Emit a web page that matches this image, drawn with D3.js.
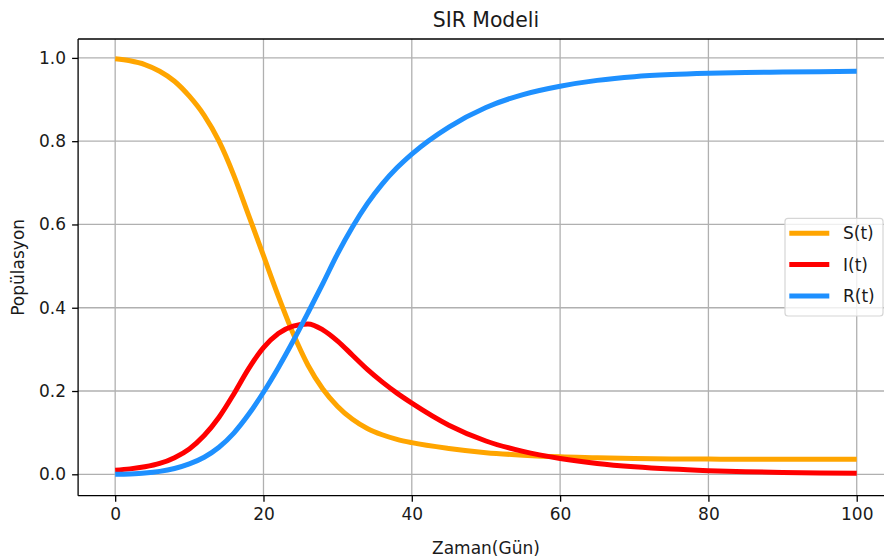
<!DOCTYPE html>
<html>
<head>
<meta charset="utf-8">
<script src="https://cdn.jsdelivr.net/npm/d3@7"></script>
<style>
  html, body { margin: 0; padding: 0; background: #fff; }
  svg { display: block; }
  text { font-family: "DejaVu Sans", sans-serif; fill: #1a1a1a; }
</style>
</head>
<body>
<svg id="chart" width="884" height="560"></svg>
<script>
// Time (days)
const days = [0,2,4,6,8,10,12,14,16,18,20,22,24,26,28,30,32,34,36,38,40,45,50,55,60,65,70,75,80,85,90,95,100];
// S(t)
const susceptible = [0.998,0.993,0.984,0.968,0.944,0.908,0.862,0.800,0.718,0.622,0.525,0.428,0.338,0.262,0.205,0.163,0.132,0.110,0.095,0.084,0.076,0.062,0.052,0.046,0.042,0.040,0.038,0.037,0.0365,0.036,0.036,0.036,0.036];
// I(t)
const infected = [0.010,0.013,0.018,0.026,0.040,0.061,0.093,0.137,0.193,0.254,0.304,0.338,0.356,0.361,0.347,0.320,0.286,0.252,0.222,0.195,0.171,0.118,0.080,0.055,0.038,0.026,0.018,0.0125,0.0088,0.0062,0.0044,0.0032,0.0024];
// R(t)
const recovered = [0.000,0.001,0.003,0.007,0.014,0.025,0.041,0.065,0.099,0.144,0.197,0.256,0.320,0.388,0.458,0.530,0.594,0.650,0.697,0.736,0.769,0.834,0.881,0.912,0.932,0.946,0.955,0.960,0.963,0.965,0.966,0.967,0.968];

const seriesNames = ["S(t)", "I(t)", "R(t)"];
const seriesColors = ["#FFA500", "#FF0000", "#1E90FF"];
const xTicks = [0, 20, 40, 60, 80, 100];
const yTicks = [0.0, 0.2, 0.4, 0.6, 0.8, 1.0];

(function () {
const svg = d3.select("#chart");
svg.append("rect").attr("width", 884).attr("height", 560).attr("fill", "#fff");

const pL = 78.1, pR = 893.8, pT = 39, pB = 495.7;
const x = d3.scaleLinear().domain([-5, 105]).range([pL, pR]);
const y = d3.scaleLinear().domain([-0.0514, 1.0454]).range([pB, pT]);

// grid
const grid = svg.append("g");
grid.selectAll("line.gx").data(xTicks).enter().append("line")
  .attr("x1", d => x(d)).attr("x2", d => x(d)).attr("y1", pT).attr("y2", pB)
  .attr("stroke", "#b0b0b0").attr("stroke-width", 1.3);
grid.selectAll("line.gy").data(yTicks).enter().append("line")
  .attr("x1", pL).attr("x2", pR).attr("y1", d => y(d)).attr("y2", d => y(d))
  .attr("stroke", "#b0b0b0").attr("stroke-width", 1.3);

// lines
const allSeries = [susceptible, infected, recovered];
const line = d3.line().x(d => x(d[0])).y(d => y(d[1])).curve(d3.curveMonotoneX);
svg.append("clipPath").attr("id", "clipArea").append("rect")
  .attr("x", pL).attr("y", pT).attr("width", pR - pL).attr("height", pB - pT);
allSeries.forEach((vals, i) => {
  svg.append("path")
    .datum(days.map((t, k) => [t, vals[k]]))
    .attr("d", line)
    .attr("fill", "none")
    .attr("stroke", seriesColors[i])
    .attr("stroke-width", 5)
    .attr("stroke-linecap", "butt")
    .attr("stroke-linejoin", "round")
    .attr("clip-path", "url(#clipArea)");
});

// axes
const xAxis = d3.axisBottom(x).tickValues(xTicks).tickFormat(d3.format("d")).tickSize(6).tickPadding(6);
const yAxis = d3.axisLeft(y).tickValues(yTicks).tickFormat(d3.format(".1f")).tickSize(6).tickPadding(6);
const gx = svg.append("g").attr("transform", `translate(0,${pB})`).call(xAxis);
const gy = svg.append("g").attr("transform", `translate(${pL},0)`).call(yAxis);
[gx, gy].forEach(g => {
  g.select(".domain").remove();
  g.selectAll(".tick line").attr("stroke", "#000").attr("stroke-width", 1.3);
  g.selectAll(".tick text").attr("font-size", 17).attr("fill", "#1a1a1a")
    .attr("font-family", "DejaVu Sans, sans-serif");
});

// spines
const sp = svg.append("g").attr("stroke", "#000").attr("stroke-width", 1.3);
sp.append("line").attr("x1", pL).attr("x2", pL).attr("y1", pT).attr("y2", pB);
sp.append("line").attr("x1", pL).attr("x2", pR).attr("y1", pB).attr("y2", pB);
sp.append("line").attr("x1", pL).attr("x2", pR).attr("y1", pT).attr("y2", pT);
sp.append("line").attr("x1", pR).attr("x2", pR).attr("y1", pT).attr("y2", pB);

// title & labels
svg.append("text").attr("x", (pL + pR) / 2).attr("y", 27)
  .attr("text-anchor", "middle").attr("font-size", 20.4).text("SIR Modeli");
svg.append("text").attr("x", (pL + pR) / 2).attr("y", 554)
  .attr("text-anchor", "middle").attr("font-size", 17).text("Zaman(Gün)");
svg.append("text").attr("transform", `translate(24,${(pT + pB) / 2}) rotate(-90)`)
  .attr("text-anchor", "middle").attr("font-size", 17).text("Popülasyon");

// legend
const lg = svg.append("g");
lg.append("rect").attr("x", 785).attr("y", 218.3).attr("width", 98).attr("height", 97.7)
  .attr("rx", 3).attr("fill", "#fff").attr("fill-opacity", 0.8)
  .attr("stroke", "#d6d6d6").attr("stroke-width", 1.2);
seriesNames.forEach((name, i) => {
  const cy = 233.3 + i * 31.3;
  lg.append("line").attr("x1", 789.3).attr("x2", 829.3).attr("y1", cy).attr("y2", cy)
    .attr("stroke", seriesColors[i]).attr("stroke-width", 5);
  lg.append("text").attr("x", 843).attr("y", cy + 6).attr("font-size", 17).text(name);
});
})();
</script>
</body>
</html>
